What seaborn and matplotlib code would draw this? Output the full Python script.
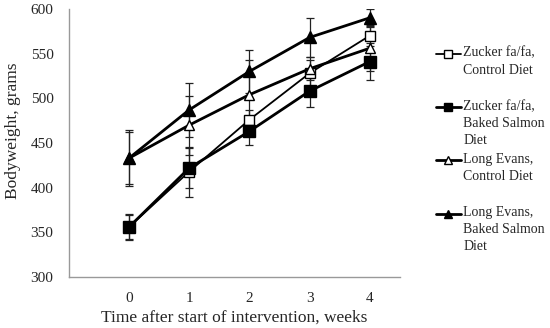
import numpy as np
import pandas as pd
import matplotlib.pyplot as plt
import seaborn as sns
from matplotlib.legend_handler import HandlerLine2D

weeks = [0, 1, 2, 3, 4]
groups = ["Zucker fa/fa,\nControl Diet\n ", "Zucker fa/fa,\nBaked Salmon\nDiet",
          "Long Evans,\nControl Diet\n ", "Long Evans,\nBaked Salmon\nDiet"]
zucker_control = [356, 418, 476, 528, 570]
zucker_salmon = [356, 422, 463, 508, 541]
le_control = [433, 470, 504, 533, 556]
le_salmon = [433, 487, 530, 568, 590]
zucker_control_err = [15, 28, 11, 15, 12]
zucker_salmon_err = [13, 22, 15, 18, 21]
le_control_err = [29, 33, 39, 13, 25]
le_salmon_err = [31, 30, 24, 22, 10]

sns.set_style("white")
plt.rcParams['font.family'] = ['Liberation Serif', 'DejaVu Serif']

fig = plt.figure(figsize=(5.5, 3.28), dpi=100)
ax = fig.add_axes([0.125, 0.155, 0.602, 0.818])

series = [
    (zucker_control, zucker_control_err, 's', 'white', 1.3, 7),
    (zucker_salmon, zucker_salmon_err, 's', 'black', 2.0, 8),
    (le_control, le_control_err, '^', 'white', 2.0, 7),
    (le_salmon, le_salmon_err, '^', 'black', 2.0, 8),
]

for (vals, err, mk, fc, lw, ms), name in zip(series, groups):
    ax.errorbar(weeks, vals, yerr=err, fmt='none', ecolor='#222222',
                elinewidth=0.9, capsize=3, capthick=0.9, zorder=2)
    sns.lineplot(x=weeks, y=vals, ax=ax, color='black', lw=lw, marker=mk,
                 markersize=ms, markerfacecolor=fc, markeredgecolor='black',
                 markeredgewidth=1.0, label=name, zorder=3)

ax.set_xlim(-1, 4.5)
ax.set_ylim(300, 600)
ax.set_xticks(weeks)
ax.set_yticks(range(300, 601, 50))
for s in ['top', 'right']:
    ax.spines[s].set_visible(False)
for s in ['left', 'bottom']:
    ax.spines[s].set_color('#999999')
    ax.spines[s].set_linewidth(1.0)
ax.tick_params(direction='inout', length=6, width=1, color='#999999',
               labelsize=11, pad=8)
ax.set_xlabel("Time after start of intervention, weeks", fontsize=12.5, labelpad=3)
ax.set_ylabel("Bodyweight, grams", fontsize=12.5)
ax.yaxis.set_label_coords(-0.145, 0.545)

LINE_PT = 11.8  # legend line height in points


class TopLine(HandlerLine2D):
    # put the key on the first line of the label, like the original
    def create_artists(self, legend, orig_handle, xdescent, ydescent,
                       width, height, fontsize, trans):
        arts = super().create_artists(legend, orig_handle, xdescent, ydescent,
                                      width, height, fontsize, trans)
        n = orig_handle.get_label().count("\n")
        shift = n * 0.5 * LINE_PT
        for a in arts:
            a.set_ydata(np.asarray(a.get_ydata()) + shift)
        return arts


handles, labels = ax.get_legend_handles_labels()
leg = ax.legend(handles, labels, loc='center left', bbox_to_anchor=(1.07, 0.474),
                frameon=False, fontsize=10, handlelength=1.8, handletextpad=0.2,
                labelspacing=0.45, markerscale=0.75,
                handler_map={h: TopLine() for h in handles})
for t in leg.get_texts():
    t.set_linespacing(1.4)

fig.savefig("out.png", dpi=100)
